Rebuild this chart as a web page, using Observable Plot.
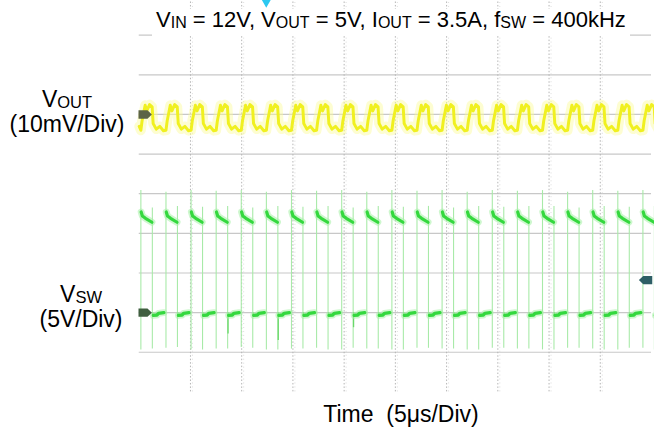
<!DOCTYPE html>
<html><head><meta charset="utf-8">
<script src="https://cdn.jsdelivr.net/npm/d3@7"></script>
<script src="https://cdn.jsdelivr.net/npm/@observablehq/plot@0.6"></script>
<style>
html,body{margin:0;padding:0;background:#fff;overflow:hidden;}
#wrap{position:relative;width:654px;height:446px;overflow:hidden;font-family:"Liberation Sans",Arial,sans-serif;color:#000;}
#chart{position:absolute;left:0;top:0;}
.lbl{position:absolute;font-size:23px;line-height:23px;white-space:nowrap;}
.c{text-align:center;}
.sub{font-size:16.5px;position:relative;top:1px;}
#title{font-size:22px;line-height:22px;}
#title .sub{font-size:16px;}
</style></head>
<body>
<div id="wrap">
<div id="chart"></div>
<div class="lbl" id="title" style="left:152px;top:9px;height:27px;padding:0 4px;background:#fff;">V<span class="sub">IN</span> = 12V, V<span class="sub">OUT</span> = 5V, I<span class="sub">OUT</span> = 3.5A, f<span class="sub">SW</span> = 400kHz</div>
<div class="lbl c" style="left:5px;width:124px;top:88px;">V<span class="sub">OUT</span></div>
<div class="lbl c" style="left:5px;width:124px;top:113px;">(10mV/Div)</div>
<div class="lbl c" style="left:21px;width:120px;top:283px;">V<span class="sub">SW</span></div>
<div class="lbl c" style="left:21px;width:120px;top:308px;">(5V/Div)</div>
<div class="lbl c" style="left:301px;width:200px;top:403px;">Time&nbsp;&nbsp;(5μs/Div)</div>
</div>
<script>
// ---- graticule (time in µs, vertical in divisions) ----
const timeDomain = [0, 50];              // 10 div x 5 µs
const divDomain = [0, 8];                // 8 vertical divisions
const hGrid = [0, 1, 2, 3, 4, 5, 6, 7, 8];
const vGrid = [5, 10, 15, 20, 25, 30, 35, 40, 45];

// ---- channel references (division of ground marker) ----
const voutRefDiv = 6;     // 10 mV/div
const vswRefDiv = 1;      // 5 V/div
const triggerLevelV = 4.1;
const triggerTime = 12.4;

// ---- switch node edges (µs) ----
const swRise = [0.16, 2.61, 5.06, 7.51, 9.96, 12.41, 14.86, 17.31, 19.76, 22.21, 24.66,
  27.11, 29.56, 32.01, 34.46, 36.91, 39.36, 41.81, 44.26, 46.71, 49.16];
const swFall = [1.28, 3.73, 6.18, 8.63, 11.08, 13.53, 15.98, 18.43, 20.88, 23.33, 25.78,
  28.23, 30.68, 33.13, 35.58, 38.03, 40.48, 42.93, 45.38, 47.83, 50.28];
// ringing extremes on the edges (V)
const swEdgeTop = [15.4, 15.2, 15.4, 15.3, 15.4, 15.2, 15.4, 15.3, 15.4, 15.2, 15.4,
  15.3, 15.4, 15.2, 15.4, 15.3, 15.4, 15.2, 15.4, 15.3, 15.4];
const swEdgeBottom = [-4.7, -4.5, -4.7, -4.6, -4.4, -4.7, -4.6, -4.5, -4.7, -4.6, -4.7,
  -4.5, -4.6, -4.7, -4.5, -4.6, -4.7, -4.5, -4.6, -4.7, -4.5];
// darker undershoot spikes after some falling edges (V)
const swDip = [-0.5, -0.6, -0.4, -2.7, -0.5, -3.5, -0.4, -0.6, -1.9, -0.5, -0.4,
  -0.5, -0.6, -0.4, -0.5, -0.6, -0.4, -0.5, -0.6, -0.4, -0.5];
// plateau shapes: [µs after edge, V]
const swHighShape = [[0.03, 12.7], [0.15, 12.2], [0.45, 11.9], [1.08, 11.4]];
const swLowShape = [[0.10, -0.35], [0.45, -0.3], [0.60, -0.1], [1.12, 0.0]];

// ---- output ripple: [µs after switch rise, mV] ----
const voutStart = -3.0;
const voutShape = [[0, -4.0], [0.12, -1.6], [0.42, 2.3], [0.58, 0.9], [0.85, 2.5],
  [1.1, 1.9], [1.2, -2.3], [1.5, -3.7], [1.85, -3.0], [2.2, -4.1]];

// ---- build tables ----
const swDiv = v => vswRefDiv + v / 5;
const voDiv = mv => voutRefDiv + mv / 10;

const highSegs = [], lowSegs = [];
swRise.forEach((r, i) => swHighShape.forEach(([dt, v]) => highSegs.push({t: r + dt, y: swDiv(v), k: i})));
swFall.forEach((f, i) => swLowShape.forEach(([dt, v]) => lowSegs.push({t: f + dt, y: swDiv(v), k: i})));
const edges = [];
swRise.forEach((r, i) => edges.push({t: r, y1: swDiv(swEdgeBottom[i]), y2: swDiv(swEdgeTop[i])}));
swFall.forEach((f, i) => edges.push({t: f, y1: swDiv(swEdgeBottom[(i + 3) % 21]), y2: swDiv(swEdgeTop[(i + 5) % 21] - 2)}));
const dips = swFall.map((f, i) => ({t: f + 0.04, y1: swDiv(0), y2: swDiv(swDip[i])}));

const vout = [{t: 0, y: voDiv(voutStart)}];
swRise.forEach(r => voutShape.forEach(([dt, mv]) => { if (r + dt <= 51) vout.push({t: r + dt, y: voDiv(mv)}); }));

const refs = [{y: voutRefDiv, c: "#5d6446"}, {y: vswRefDiv, c: "#3f5e3f"}];

const arrow = {
  draw(ctx, size) {
    const r = Math.sqrt(size / Math.PI);
    const w = r * 1.35, h = r * 0.85;
    ctx.moveTo(-w, -h); ctx.lineTo(w * 0.35, -h); ctx.lineTo(w, 0);
    ctx.lineTo(w * 0.35, h); ctx.lineTo(-w, h); ctx.closePath();
  }
};

const chart = Plot.plot({
  width: 660, height: 446,
  marginLeft: 140, marginRight: 3, marginTop: 35, marginBottom: 91,
  x: {domain: timeDomain, axis: null},
  y: {domain: divDomain, axis: null},
  style: {background: "transparent", overflow: "visible"},
  marks: [
    Plot.ruleY(hGrid, {y: d => d, stroke: "#c8c8c8", strokeWidth: 1.2}),
    Plot.ruleX(vGrid, {x: d => d, y1: -1, y2: 8.9, stroke: "#b4b4b4", strokeWidth: 1, strokeDasharray: "1.5,2"}),
    Plot.ruleX(vGrid, {x: d => d, y1: -1, y2: 8.9, dx: 2, stroke: "#dcdcdc", strokeWidth: 1, strokeDasharray: "1,3"}),
    // VSW
    Plot.ruleX(edges, {x: "t", y1: "y1", y2: "y2", stroke: "#a8eaa8", strokeWidth: 1.1}),
    Plot.ruleX(dips, {x: "t", y1: "y1", y2: "y2", stroke: "#6ad86a", strokeWidth: 1.3}),
    Plot.line(highSegs, {x: "t", y: "y", z: "k", stroke: "#a6f0a6", strokeWidth: 7, strokeOpacity: 0.55}),
    Plot.line(highSegs, {x: "t", y: "y", z: "k", stroke: "#34d83e", strokeWidth: 3.2}),
    Plot.line(lowSegs, {x: "t", y: "y", z: "k", stroke: "#a6f0a6", strokeWidth: 7, strokeOpacity: 0.55}),
    Plot.line(lowSegs, {x: "t", y: "y", z: "k", stroke: "#34d83e", strokeWidth: 3.4}),
    // VOUT
    Plot.line(vout, {x: "t", y: "y", stroke: "#fbfb9a", strokeWidth: 10, strokeOpacity: 0.45}),
    Plot.line(vout, {x: "t", y: "y", stroke: "#f0f020", strokeWidth: 3}),
    // markers
    Plot.dot(refs, {y: "y", frameAnchor: "left", dx: 6, symbol: arrow, r: 5, fill: "c", stroke: "none"}),
    Plot.dot([triggerLevelV], {y: d => swDiv(d), frameAnchor: "right", dx: -6, rotate: 180, symbol: arrow, r: 5, fill: "#2e5f66", stroke: "none"}),
    Plot.dot([triggerTime], {x: d => d, frameAnchor: "top", dy: -34, symbol: "triangle", rotate: 180, r: 4, fill: "#2cc8f0", stroke: "none"})
  ]
});
document.getElementById("chart").appendChild(chart);
</script>
</body></html>
